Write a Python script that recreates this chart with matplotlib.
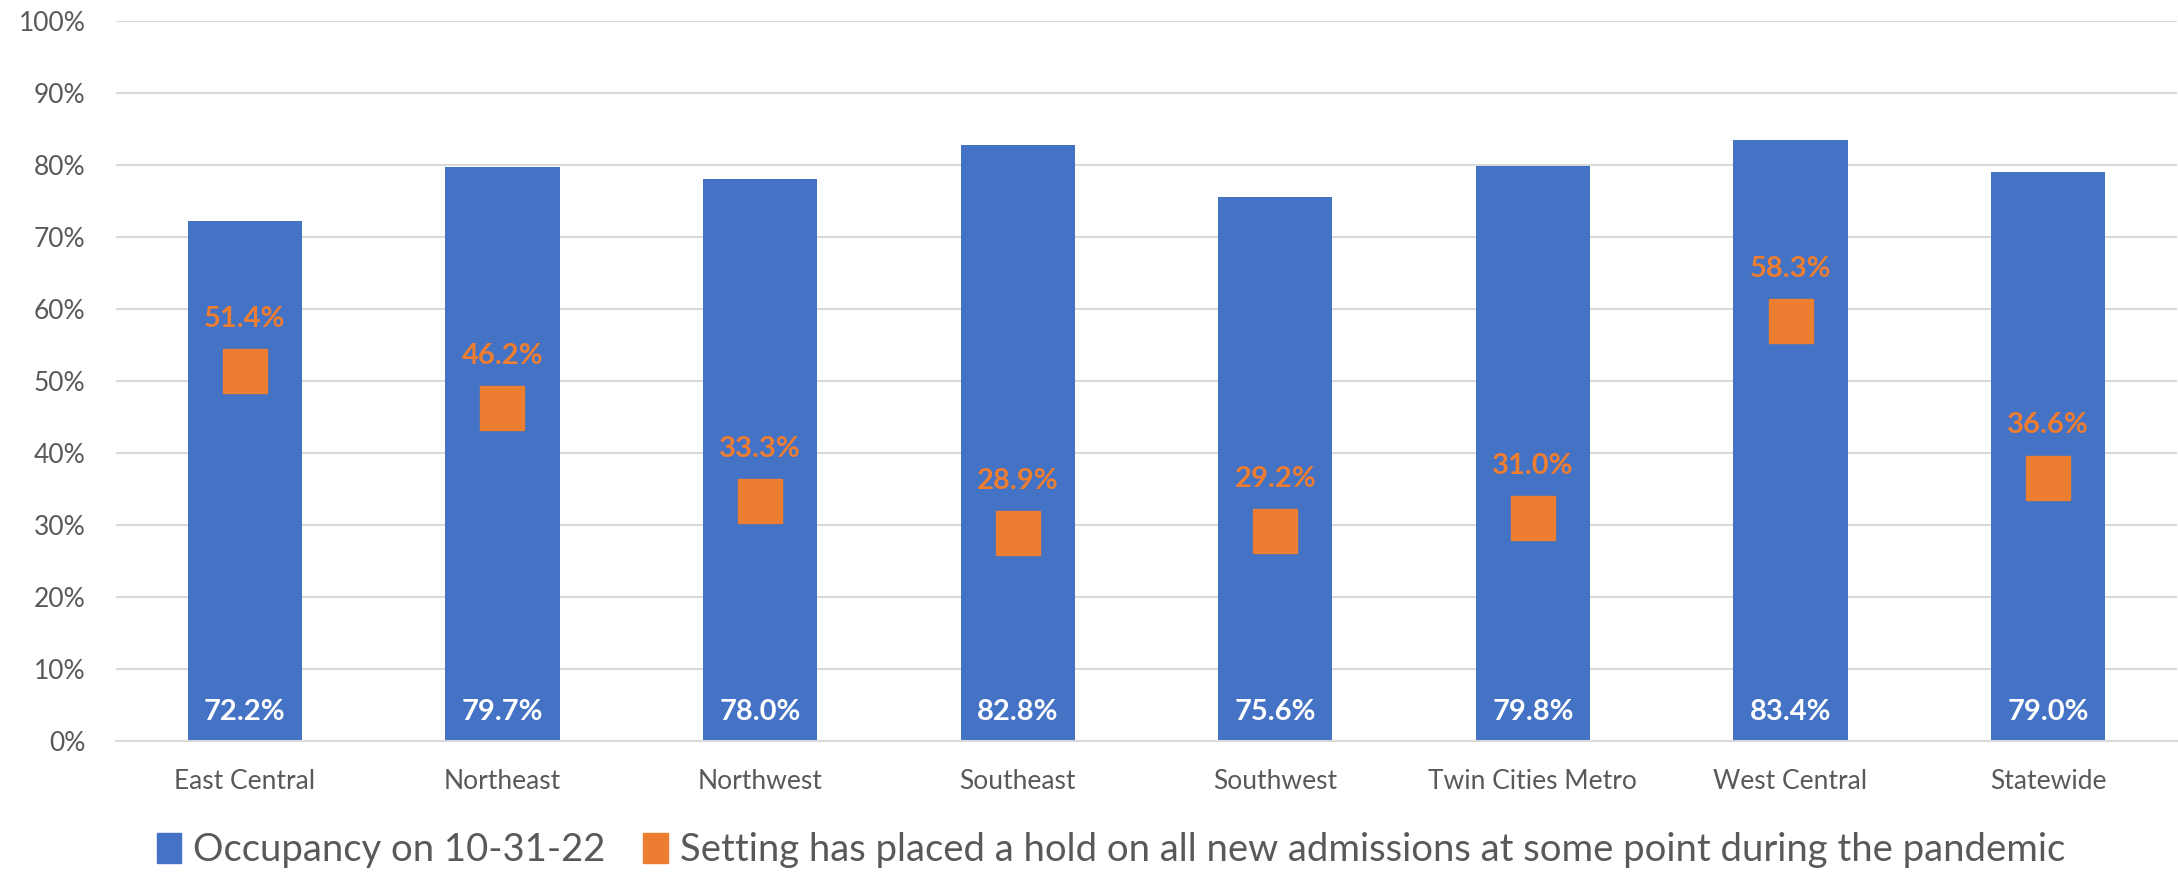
import matplotlib
matplotlib.use('Agg')
import matplotlib.pyplot as plt
from matplotlib.patches import Patch
from matplotlib.ticker import PercentFormatter
import numpy as np

# Regional occupancy vs. share of settings that paused admissions
regions = ['East Central', 'Northeast', 'Northwest', 'Southeast',
           'Southwest', 'Twin Cities Metro', 'West Central', 'Statewide']
occupancy = [72.2, 79.7, 78.0, 82.8, 75.6, 79.8, 83.4, 79.0]
hold = [51.4, 46.2, 33.3, 28.9, 29.2, 31.0, 58.3, 36.6]

blue = '#4472C4'
orange = '#ED7D31'
grey = '#595959'

plt.rcParams['font.family'] = ['Lato', 'DejaVu Sans']

fig = plt.figure(figsize=(21.78, 8.72), dpi=100)
ax = fig.add_axes([0.0533, 0.150, 0.9462, 0.826])

x = np.arange(len(regions))
ax.bar(x, occupancy, width=0.443, color=blue, zorder=2)
ax.plot(x, hold, 's', ms=31.5, color=orange, zorder=3, linestyle='none')

# white values at the foot of each bar
for xi, v in zip(x, occupancy):
    ax.annotate('%.1f%%' % v, (xi, 0), xytext=(0, 21), textcoords='offset points',
                ha='center', va='center', color='white', fontsize=21, fontweight='bold')

# orange values above each square
for xi, v in zip(x, hold):
    ax.annotate('%.1f%%' % v, (xi, v), xytext=(0, 37.5), textcoords='offset points',
                ha='center', va='center', color=orange, fontsize=21, fontweight='bold')

ax.set_xlim(-0.5, len(regions) - 0.5)
ax.set_ylim(0, 100)
ax.set_yticks(np.arange(0, 101, 10))
ax.yaxis.set_major_formatter(PercentFormatter(decimals=0))
ax.set_xticks(x)
ax.set_xticklabels(regions)
ax.tick_params(axis='y', length=0, pad=22, labelsize=19, labelcolor=grey)
ax.tick_params(axis='x', length=0, pad=20, labelsize=19, labelcolor=grey)

ax.grid(axis='y', color='#d9d9d9', linewidth=1.5, zorder=0)
for s in ['top', 'right', 'left']:
    ax.spines[s].set_visible(False)
ax.spines['bottom'].set_color('#d9d9d9')
ax.spines['bottom'].set_linewidth(1.5)

handles = [Patch(color=blue, label='Occupancy on 10-31-22'),
           Patch(color=orange, label='Setting has placed a hold on all new admissions at some point during the pandemic')]
leg = fig.legend(handles=handles, loc='center', bbox_to_anchor=(0.51, 0.025), ncol=2,
                 frameon=False, fontsize=27.5, handlelength=0.65, handleheight=0.85,
                 handletextpad=0.3, columnspacing=1.0)
for t in leg.get_texts():
    t.set_color(grey)

fig.savefig('out.png', dpi=100)
